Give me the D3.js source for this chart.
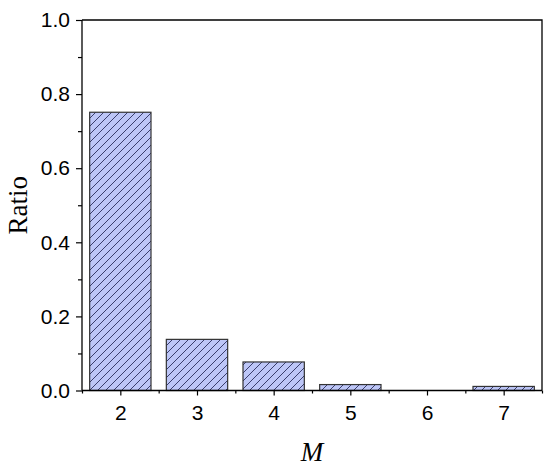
<!DOCTYPE html>
<html>
<head>
<meta charset="utf-8">
<script src="https://cdn.jsdelivr.net/npm/d3@7"></script>
<style>
  html, body { margin: 0; padding: 0; background: #fff; }
  svg { display: block; }
</style>
</head>
<body>
<svg id="chart" width="550" height="471"></svg>
<script>
// ---- data ----
const categories = [2, 3, 4, 5, 6, 7];
const ratios = [0.751, 0.138, 0.077, 0.016, 0, 0.011];
const yTicks = [0, 0.2, 0.4, 0.6, 0.8, 1.0];
const yMinorTicks = [0.1, 0.3, 0.5, 0.7, 0.9];
const xMinorTicks = [1.5, 2.5, 3.5, 4.5, 5.5, 6.5, 7.5];
const xTitle = "M";
const yTitle = "Ratio";

(function () {
const svg = d3.select("#chart");
const mL = 82, mR = 542, mT = 20, mB = 390.5;

const x = d3.scaleLinear().domain([1.5, 7.5]).range([mL, mR]);
const y = d3.scaleLinear().domain([0, 1]).range([mB, mT]);
const barW = x(2.4) - x(1.6);

// hatch pattern
const defs = svg.append("defs");
const pat = defs.append("pattern")
  .attr("id", "hatch")
  .attr("patternUnits", "userSpaceOnUse")
  .attr("width", 8).attr("height", 8);
pat.append("rect").attr("width", 8).attr("height", 8).attr("fill", "#bdc6f7");
pat.append("path")
  .attr("d", "M-2,2 L2,-2 M0,8 L8,0 M6,10 L10,6")
  .attr("stroke", "#2b2f5e").attr("stroke-width", 0.9);

const data = categories.map((c, i) => ({ c, v: ratios[i] })).filter(d => d.v > 0);

svg.append("g").selectAll("rect")
  .data(data).join("rect")
  .attr("x", d => x(d.c) - barW / 2)
  .attr("y", d => y(d.v))
  .attr("width", barW)
  .attr("height", d => y(0) - y(d.v))
  .attr("fill", "url(#hatch)")
  .attr("stroke", "#333")
  .attr("stroke-width", 1.2);

// frame (top, right)
svg.append("path")
  .attr("d", `M${mL},${mT} H${mR} V${mB}`)
  .attr("fill", "none").attr("stroke", "#000").attr("stroke-width", 1.3);

// y axis
const yAxis = svg.append("g").attr("transform", `translate(${mL},0)`)
  .call(d3.axisLeft(y).tickValues(yTicks).tickFormat(d3.format(".1f")).tickSize(6).tickPadding(6));
svg.append("g").attr("transform", `translate(${mL},0)`)
  .call(d3.axisLeft(y).tickValues(yMinorTicks).tickFormat("").tickSize(4))
  .call(g => g.select(".domain").remove());

// x axis
const xAxis = svg.append("g").attr("transform", `translate(0,${mB})`)
  .call(d3.axisBottom(x).tickValues(categories).tickFormat(d3.format("d")).tickSize(5).tickPadding(10));
svg.append("g").attr("transform", `translate(0,${mB})`)
  .call(d3.axisBottom(x).tickValues(xMinorTicks).tickFormat("").tickSize(3))
  .call(g => g.select(".domain").remove());

svg.selectAll(".tick text")
  .attr("font-family", "'Liberation Sans', Arial, sans-serif")
  .attr("font-size", 21)
  .attr("fill", "#000");
svg.selectAll(".domain").attr("stroke-width", 1.3);
yAxis.select(".domain").attr("d", `M0,${mT}V${mB}`);
xAxis.select(".domain").attr("d", `M${mL},0H${mR}`);
svg.selectAll(".tick line").attr("stroke-width", 1.2);

// titles
svg.append("text")
  .attr("x", x(4.5)).attr("y", 461)
  .attr("text-anchor", "middle")
  .attr("font-family", "'Liberation Serif', 'Times New Roman', serif")
  .attr("font-style", "italic")
  .attr("font-size", 27)
  .text(xTitle);

svg.append("text")
  .attr("transform", `translate(27,${(mT + mB) / 2}) rotate(-90)`)
  .attr("text-anchor", "middle")
  .attr("font-family", "'Liberation Serif', 'Times New Roman', serif")
  .attr("font-size", 27)
  .text(yTitle);
})();
</script>
</body>
</html>
